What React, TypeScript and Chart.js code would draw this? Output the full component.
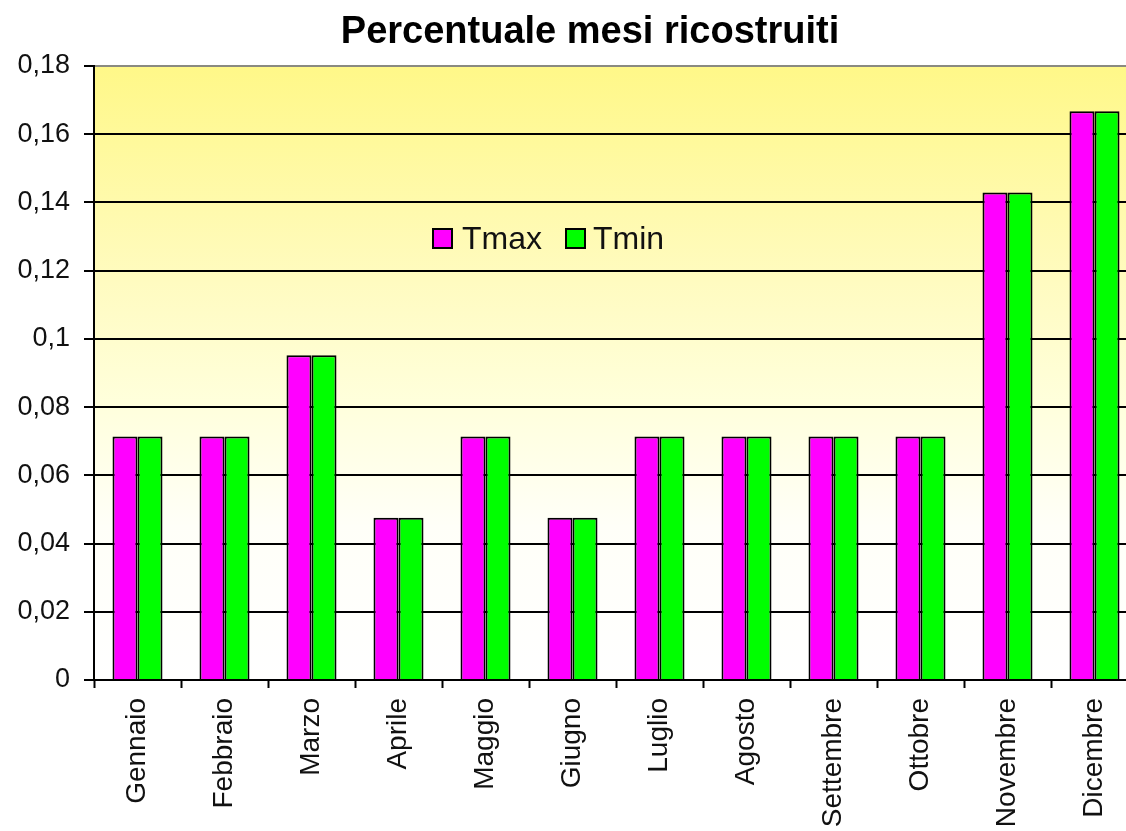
import React, { useEffect, useRef } from "react";
import { Chart, registerables } from "chart.js";

Chart.register(...registerables);

const title = "Percentuale mesi ricostruiti";
const categories = [
  "Gennaio", "Febbraio", "Marzo", "Aprile", "Maggio", "Giugno",
  "Luglio", "Agosto", "Settembre", "Ottobre", "Novembre", "Dicembre",
];
const seriesNames = ["Tmax", "Tmin"];
const seriesColors = ["#FF00FF", "#00FF00"];
const tmaxValues = [0.0714, 0.0714, 0.0952, 0.0476, 0.0714, 0.0476, 0.0714, 0.0714, 0.0714, 0.0714, 0.1429, 0.1667];
const tminValues = [0.0714, 0.0714, 0.0952, 0.0476, 0.0714, 0.0476, 0.0714, 0.0714, 0.0714, 0.0714, 0.1429, 0.1667];
const yMin = 0;
const yMax = 0.18;
const yStep = 0.02;

const FONT = "Arial, 'Liberation Sans', sans-serif";
const CANVAS_W = 1150;
const CANVAS_H = 831;

const bgPlugin = {
  id: "plotBg",
  beforeDraw(chart: any) {
    const { ctx, chartArea } = chart;
    if (!chartArea) return;
    const g = ctx.createLinearGradient(0, chartArea.top, 0, chartArea.bottom);
    g.addColorStop(0, "#FFF888");
    g.addColorStop(0.35, "#FFFBC0");
    g.addColorStop(0.55, "#FFFFDC");
    g.addColorStop(0.75, "#FFFFF8");
    g.addColorStop(1, "#FFFFFF");
    ctx.save();
    ctx.fillStyle = g;
    ctx.fillRect(chartArea.left, chartArea.top, chartArea.right - chartArea.left, chartArea.bottom - chartArea.top);
    ctx.restore();
  },
};

export default function App() {
  const ref = useRef<HTMLCanvasElement | null>(null);

  useEffect(() => {
    document.body.style.margin = "0";
    document.body.style.overflow = "hidden";
    const canvas = ref.current;
    if (!canvas) return;
    const chart = new Chart(canvas, {
      type: "bar",
      data: {
        labels: categories,
        datasets: [
          {
            label: seriesNames[0],
            data: tmaxValues,
            backgroundColor: seriesColors[0],
            borderColor: "#000000",
            borderWidth: 2,
            categoryPercentage: 0.575,
            barPercentage: 1,
          },
          {
            label: seriesNames[1],
            data: tminValues,
            backgroundColor: seriesColors[1],
            borderColor: "#000000",
            borderWidth: 2,
            categoryPercentage: 0.575,
            barPercentage: 1,
          },
        ],
      },
      options: {
        animation: false,
        responsive: false,
        maintainAspectRatio: false,
        layout: { padding: { left: 0, right: 12, top: 66, bottom: 0 } },
        plugins: {
          legend: { display: false },
          tooltip: { enabled: false },
          title: { display: false },
        },
        scales: {
          x: {
            offset: true,
            grid: {
              display: true,
              offset: true,
              drawOnChartArea: false,
              drawTicks: true,
              tickLength: 8,
              tickWidth: 2,
              tickColor: "#000000",
            },
            border: { display: true, color: "#000000", width: 2 },
            ticks: {
              color: "#111111",
              font: { family: FONT, size: 28 },
              minRotation: 90,
              maxRotation: 90,
              padding: 10,
              autoSkip: false,
            },
            afterFit(scale: any) {
              scale.height = 151;
            },
          },
          y: {
            min: yMin,
            max: yMax,
            ticks: {
              stepSize: yStep,
              color: "#111111",
              font: { family: FONT, size: 27 },
              padding: 14,
              callback: (v: any) => {
                const n = Number(v);
                if (n === 0) return "0";
                return String(Math.round(n * 100) / 100).replace(".", ",");
              },
            },
            grid: {
              color: (c: any) => (c.tick && Math.abs(c.tick.value - yMax) < 1e-9 ? "#8a8a80" : "#000000"),
              lineWidth: 2,
              tickLength: 10,
              tickColor: "#000000",
              tickWidth: 2,
            },
            border: { display: true, color: "#000000", width: 2 },
            afterFit(scale: any) {
              scale.width = 94;
            },
          },
        },
      },
      plugins: [bgPlugin],
    });
    return () => chart.destroy();
  }, []);

  return (
    <div style={{ position: "relative", width: 1126, height: 831, overflow: "hidden", background: "#ffffff" }}>
      <canvas ref={ref} width={CANVAS_W} height={CANVAS_H} style={{ display: "block", width: CANVAS_W, height: CANVAS_H }} />
      <div
        style={{
          position: "absolute",
          left: 0,
          top: 11,
          width: 1180,
          textAlign: "center",
          fontFamily: FONT,
          fontWeight: "bold",
          fontSize: 38,
          lineHeight: 1,
          color: "#000000",
          whiteSpace: "nowrap",
        }}
      >
        {title}
      </div>
      {seriesNames.map((name, i) => {
        const boxLeft = i === 0 ? 432 : 565;
        const textLeft = i === 0 ? 462 : 593;
        return (
          <React.Fragment key={name}>
            <div
              style={{
                position: "absolute",
                left: boxLeft,
                top: 228,
                width: 17,
                height: 17,
                background: seriesColors[i],
                border: "2px solid #000",
              }}
            />
            <div
              style={{
                position: "absolute",
                left: textLeft,
                top: 222,
                fontFamily: FONT,
                fontSize: 32,
                lineHeight: 1,
                color: "#111111",
                whiteSpace: "nowrap",
              }}
            >
              {name}
            </div>
          </React.Fragment>
        );
      })}
    </div>
  );
}
